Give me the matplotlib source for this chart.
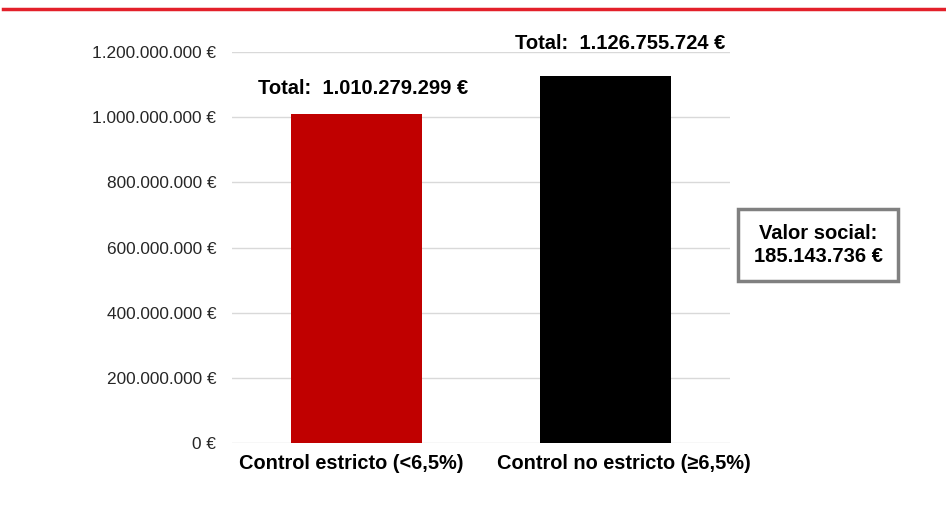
import matplotlib
matplotlib.use("Agg")
import matplotlib.pyplot as plt
from matplotlib.lines import Line2D
import matplotlib.transforms as mtransforms

categories = ["Control estricto (<6,5%)", "Control no estricto (≥6,5%)"]
values = [1010279299, 1126755724]
total_labels = ["Total:  1.010.279.299 €", "Total:  1.126.755.724 €"]
yticks = [0, 200000000, 400000000, 600000000, 800000000, 1000000000, 1200000000]
ytick_labels = ["0 €", "200.000.000 €", "400.000.000 €", "600.000.000 €",
                "800.000.000 €", "1.000.000.000 €", "1.200.000.000 €"]
bar_colors = ["#C00000", "#000000"]
social_value_text = "Valor social:\n185.143.736 €"

plt.rcParams['font.family'] = ['Liberation Sans', 'DejaVu Sans']

fig = plt.figure(figsize=(9.46, 5.05), dpi=100)
ax = fig.add_axes([232/946, 1-443/505, 498/946, 391/505])

x = list(range(len(categories)))
ax.bar(x, values, width=0.53, color=bar_colors, zorder=3)
ax.set_xlim(-0.5, 1.5)
ax.set_ylim(0, 1200000000)
ax.set_yticks(yticks)
ax.set_yticklabels(ytick_labels, fontsize=12.4, color="#262626")
ax.set_xticks(x)
ax.set_xticklabels(categories, fontsize=14.4, fontweight="bold", color="#000000")
ax.tick_params(axis="y", length=0, pad=11.5)
ax.tick_params(axis="x", length=0, pad=8)
ax.grid(axis="y", color="#D9D9D9", linewidth=1, zorder=0)
for s in ax.spines.values():
    s.set_visible(False)

# shift x labels apart slightly as in the reference
shifts_px = [-5, 18]
for lab, dx in zip(ax.get_xticklabels(), shifts_px):
    lab.set_transform(lab.get_transform() +
                      mtransforms.ScaledTranslation(dx/100, 0, fig.dpi_scale_trans))

label_offsets = [(7, 25), (15, 32)]  # pixels
for i, (v, lab) in enumerate(zip(values, total_labels)):
    dx, dy = label_offsets[i]
    ax.annotate(lab, xy=(i, v), xytext=(dx*0.72, dy*0.72), textcoords="offset points",
                ha="center", va="center", fontsize=14.5, fontweight="bold", color="#000000")

fig.text(818/946, 1-245/505, social_value_text, ha="center", va="center",
         fontsize=14.5, fontweight="bold", color="#000000", linespacing=1.3,
         bbox=dict(boxstyle="square,pad=0.75", facecolor="white",
                   edgecolor="#808080", linewidth=2.5))

fig.add_artist(Line2D([3/946, 1], [1-9/505, 1-9/505], color="#E3202A",
                      linewidth=2.5, transform=fig.transFigure))

fig.savefig("out.png", dpi=100)
